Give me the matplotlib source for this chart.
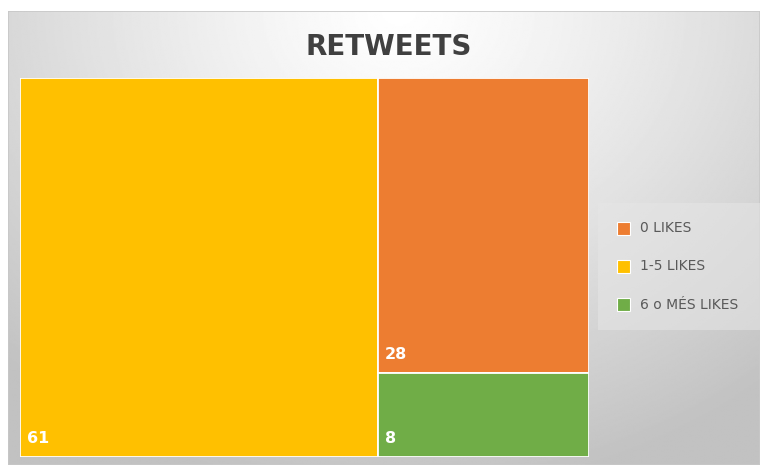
import matplotlib.pyplot as plt
from matplotlib.patches import Rectangle
import numpy as np

# dades
categories = ["0 LIKES", "1-5 LIKES", "6 o MÉS LIKES"]
values = [28, 61, 8]
colors = ["#ED7D31", "#FFC000", "#70AD47"]

W, H = 760, 465
fig = plt.figure(figsize=(W / 100, H / 100), dpi=100)
fig.patch.set_facecolor("white")

# --- fons amb degradat radial ---
bg = fig.add_axes([8 / W, 0, 1 - 8 / W, 1 - 11 / H])
bg.set_axis_off()
yy, xx = np.mgrid[0:1:300j, 0:1:500j]
dist = np.sqrt(((xx - 0.52) * 1.2) ** 2 + ((yy - 0.0) * 0.85) ** 2)
shade = np.clip(1.0 - 0.27 * dist ** 1.2, 0.76, 1.0)
bg.imshow(shade, cmap="gray", vmin=0, vmax=1, aspect="auto",
          extent=[0, 1, 1, 0], interpolation="bilinear")
bg.set_xlim(0, 1)
bg.set_ylim(1, 0)
bg.add_patch(Rectangle((0, 0), 1, 1, fill=False, ec="#c8c8c8", lw=1.2,
                       transform=bg.transAxes))

# --- treemap ---
x0, y0, x1, y1 = 20, 78, 589, 457
ax = fig.add_axes([x0 / W, 1 - y1 / H, (x1 - x0) / W, (y1 - y0) / H])
ax.set_xlim(0, 1)
ax.set_ylim(0, 1)
ax.set_axis_off()

order = sorted(range(len(values)), key=lambda i: -values[i])
total = sum(values)
big = order[0]
wbig = values[big] / total
rects = {big: (0, 0, wbig, 1)}
rest = order[1:]
rest_total = sum(values[i] for i in rest)
top = 1.0
for i in rest:
    h = values[i] / rest_total
    rects[i] = (wbig, top - h, 1 - wbig, h)
    top -= h

for i, (rx, ry, rw, rh) in rects.items():
    ax.add_patch(Rectangle((rx, ry), rw, rh, fc=colors[i], ec="white", lw=1.3))
    ax.text(rx + 0.012, ry + 0.028, str(values[i]), color="white",
            fontsize=11.5, fontweight="bold", ha="left", va="bottom")

fig.text(389 / W, 1 - 47 / H, "RETWEETS", ha="center", va="center",
         fontsize=20, fontweight="bold", color="#404040")

# --- llegenda ---
lg = fig.add_axes([598 / W, 1 - 330 / H, (W - 598) / W, 127 / H])
lg.set_xlim(0, 1)
lg.set_ylim(0, 1)
lg.set_axis_off()
lg.add_patch(Rectangle((0, 0), 1, 1, fc="#e6e6e6", alpha=0.55, ec="none"))
ys = [0.80, 0.50, 0.20]
for i, yv in zip(range(3), ys):
    lg.add_patch(Rectangle((0.12, yv - 0.05), 0.075, 0.10, fc=colors[i], ec="white", lw=0.8))
    lg.text(0.26, yv, categories[i], ha="left", va="center", fontsize=10,
            color="#595959")

fig.savefig("out.png", dpi=100)
